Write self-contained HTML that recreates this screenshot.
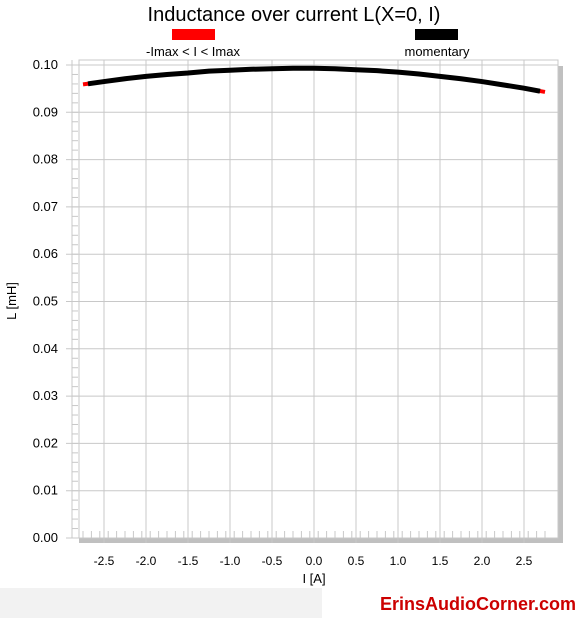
<!DOCTYPE html>
<html><head><meta charset="utf-8"><style>
body{margin:0;background:#fff;font-family:"Liberation Sans",sans-serif}
</style></head><body>
<svg width="588" height="618" xmlns="http://www.w3.org/2000/svg" font-family="Liberation Sans, sans-serif">
<rect x="0" y="588" width="322" height="30" fill="#f2f2f2"/>
<text x="478" y="610" font-size="18" font-weight="bold" fill="#cc0000" text-anchor="middle">ErinsAudioCorner.com</text>
<text x="294" y="21" font-size="20" text-anchor="middle">Inductance over current L(X=0, I)</text>
<rect x="172" y="29" width="43" height="11" fill="#ff0000"/>
<text x="193" y="56" font-size="13" text-anchor="middle">-Imax &lt; I &lt; Imax</text>
<rect x="415" y="29" width="43" height="11" fill="#000"/>
<text x="437" y="56" font-size="13" text-anchor="middle">momentary</text>
<rect x="558" y="66" width="5" height="477" fill="#c0c0c0"/>
<rect x="79" y="538" width="484" height="5" fill="#c0c0c0"/>
<g id="grid"></g><g id="axes"></g><g id="series"></g>
<text x="314" y="583" font-size="13" text-anchor="middle">I [A]</text>
<text x="16" y="301" font-size="13" text-anchor="middle" transform="rotate(-90 16 301)">L [mH]</text>
</svg>
<script>
const xTicks=[-2.5,-2.0,-1.5,-1.0,-0.5,0.0,0.5,1.0,1.5,2.0,2.5];
const yTicks=[0,0.01,0.02,0.03,0.04,0.05,0.06,0.07,0.08,0.09,0.10];
const currents=[-2.75,-2.5,-2.25,-2,-1.75,-1.5,-1.25,-1,-0.75,-0.5,-0.25,0,0.25,0.5,0.75,1,1.25,1.5,1.75,2,2.25,2.5,2.75];
const inductance=[0.0959,0.0965,0.0971,0.0976,0.0980,0.0983,0.0987,0.0989,0.0991,0.0992,0.0993,0.0993,0.0992,0.0990,0.0988,0.0985,0.0981,0.0976,0.0971,0.0965,0.0958,0.0951,0.0943];
const NS="http://www.w3.org/2000/svg";
const X=v=>314+v*84, Y=v=>538-v*4730;
const L=79,R=558,T=60,B=538;
function mk(t,a,p){const e=document.createElementNS(NS,t);for(const k in a)e.setAttribute(k,a[k]);p.appendChild(e);return e;}
const grid=document.getElementById('grid'),axes=document.getElementById('axes'),ser=document.getElementById('series');
mk('rect',{x:L,y:T,width:R-L,height:B-T,fill:'none',stroke:'#c8c8c8'},grid);
xTicks.forEach(v=>{const l=mk('line',{x1:X(v),x2:X(v),y1:T,y2:B+5,stroke:'#c8c8c8'},grid);


const t=mk('text',{x:X(v),y:565,'font-size':12,'text-anchor':'middle'},axes);t.textContent=v.toFixed(1);

});
yTicks.forEach(v=>{const l=mk('line',{x1:66,x2:R,y1:Y(v),y2:Y(v),stroke:'#c8c8c8'},grid);


const t=mk('text',{x:58,y:Y(v)+4,'font-size':13,'text-anchor':'end'},axes);t.textContent=v.toFixed(2);

});
mk('line',{x1:72,x2:72,y1:T,y2:B,stroke:'#c8c8c8'},grid);
for(let v=0;v<=0.1;v+=0.002){mk('line',{x1:72,x2:78,y1:Y(v),y2:Y(v),stroke:'#c8c8c8'},grid);}
for(let v=-2.75;v<=2.8;v+=0.1){mk('line',{x1:X(v),x2:X(v),y1:B-7,y2:B,stroke:'#c8c8c8'},grid);}
const pts=currents.map((c,i)=>X(c)+','+Y(inductance[i])).join(' ');
const r=mk('polyline',{points:pts,fill:'none',stroke:'#ff0000','stroke-width':4},ser);


const n=currents.length;
const a0=X(currents[0])+5, a1=Y(inductance[0]+(inductance[1]-inductance[0])/5);
const b0=X(currents[n-1])-5, b1=Y(inductance[n-1]+(inductance[n-2]-inductance[n-1])/5);
const ic=currents.slice(1,-1).map((c,i)=>X(c)+','+Y(inductance[i+1]));
const m=mk('polyline',{points:[a0+','+a1].concat(ic).concat([b0+','+b1]).join(' '),fill:'none',stroke:'#000','stroke-width':5},ser);


</script>
</body></html>
